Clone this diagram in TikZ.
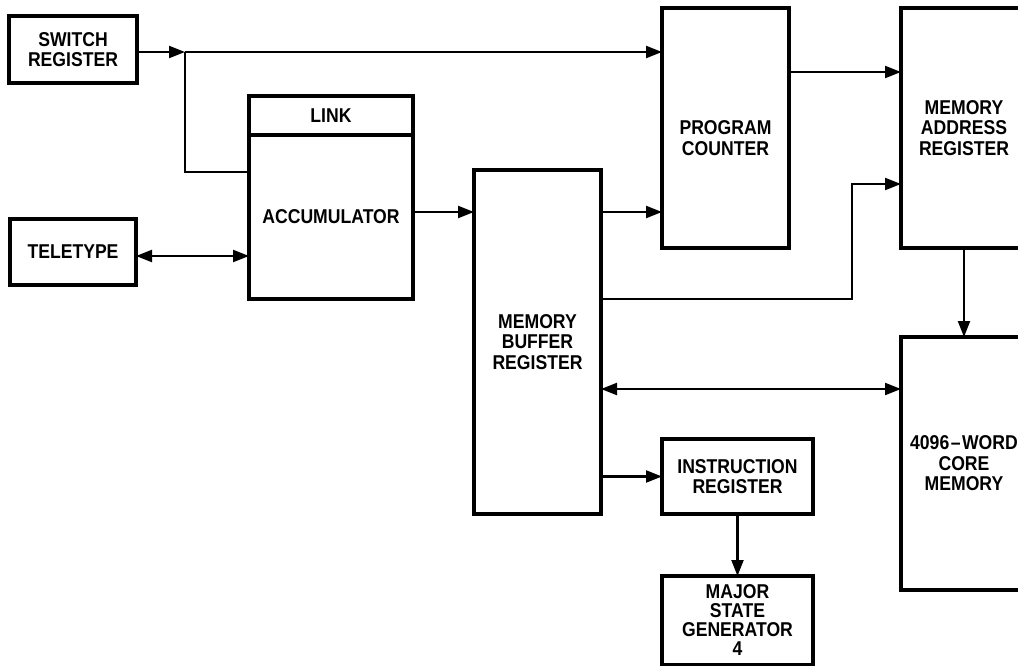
\documentclass[tikz,border=0pt]{standalone}
\usepackage{fontspec}
\setmainfont{Liberation Sans}[FakeStretch=0.88]
\usetikzlibrary{arrows.meta,positioning}

\begin{document}
\begin{tikzpicture}[
  x=1pt, y=-1pt,
  >={Triangle[length=16pt,width=12pt]},
  lettering/.style={align=center, font=\fontsize{20}{20.5}\selectfont\bfseries},
  box/.style={draw, line width=3.2pt, outer sep=0pt, inner sep=2pt, lettering},
  wire/.style={line width=2.3pt}]
\useasboundingbox (0,0) rectangle (1018,666);
\node[box, minimum width=128pt, minimum height=67pt] (sr) at (73,49.5) {SWITCH\\REGISTER};
\node[box, minimum width=126pt, minimum height=66pt, below=136pt of sr] (tty) {TELETYPE};
\node[box, minimum width=164pt, minimum height=39pt] (link) at (331,115.5) {LINK};
\node[box, minimum width=164pt, minimum height=164pt, below=0pt of link] (acc) {ACCUMULATOR};
\node[box, minimum width=127pt, minimum height=344pt] (mbr) at (537.5,342) {MEMORY\\BUFFER\\REGISTER};
\node[box, minimum width=127pt, minimum height=240pt,
      label={[lettering, yshift=-10pt]center:{PROGRAM\\COUNTER}}] (pc) at (725.5,128) {};
\node[box, minimum width=126pt, minimum height=240pt, right=112pt of pc] (mar) {MEMORY\\ADDRESS\\REGISTER};
\node[box, minimum width=126pt, minimum height=253pt, below=89pt of mar] (core) {4096\kern1.5pt--\kern1.5pt WORD\\CORE\\MEMORY};
\node[box, minimum width=151pt, minimum height=75pt] (ir) at (737.5,476.5) {INSTRUCTION\\REGISTER};
\node[box, minimum width=151pt, minimum height=89pt, below=62pt of ir,
      font=\fontsize{20}{19}\selectfont\bfseries] (msg) {MAJOR\\STATE\\GENERATOR\\4};

% switch register feeds the program counter and the accumulator
\coordinate (jn) at (185,52);
\draw[wire,->] ([yshift=-2.5pt]sr.east) -- (jn);
\draw[wire,->] (jn) -- (jn -| pc.west);
\draw[wire] (jn) |- ([yshift=45pt]acc.west);
\draw[wire,<->] ([yshift=-4pt]tty.east) -- ([yshift=-4pt]tty.east -| acc.west);
\draw[wire,->] ([yshift=5pt]acc.east) -- ([yshift=5pt]acc.east -| mbr.west);
\draw[wire,->] ([yshift=130pt]mbr.east) -- ([yshift=130pt]mbr.east -| pc.west);
\draw[wire,->] ([yshift=56pt]pc.east) -- ([yshift=56pt]pc.east -| mar.west);
\draw[wire,->] ([yshift=43pt]mbr.east) -| ([xshift=-49pt,yshift=-56pt]mar.west) -- ([yshift=-56pt]mar.west);
\draw[wire,->] (mar) -- (core);
\draw[wire,<->] ([yshift=-47pt]mbr.east) -- ([yshift=-47pt]mbr.east -| core.west);
\draw[wire,->] (ir.west -| mbr.east) -- (ir.west);
\draw[wire,->] (ir) -- (msg);
\end{tikzpicture}
\end{document}
